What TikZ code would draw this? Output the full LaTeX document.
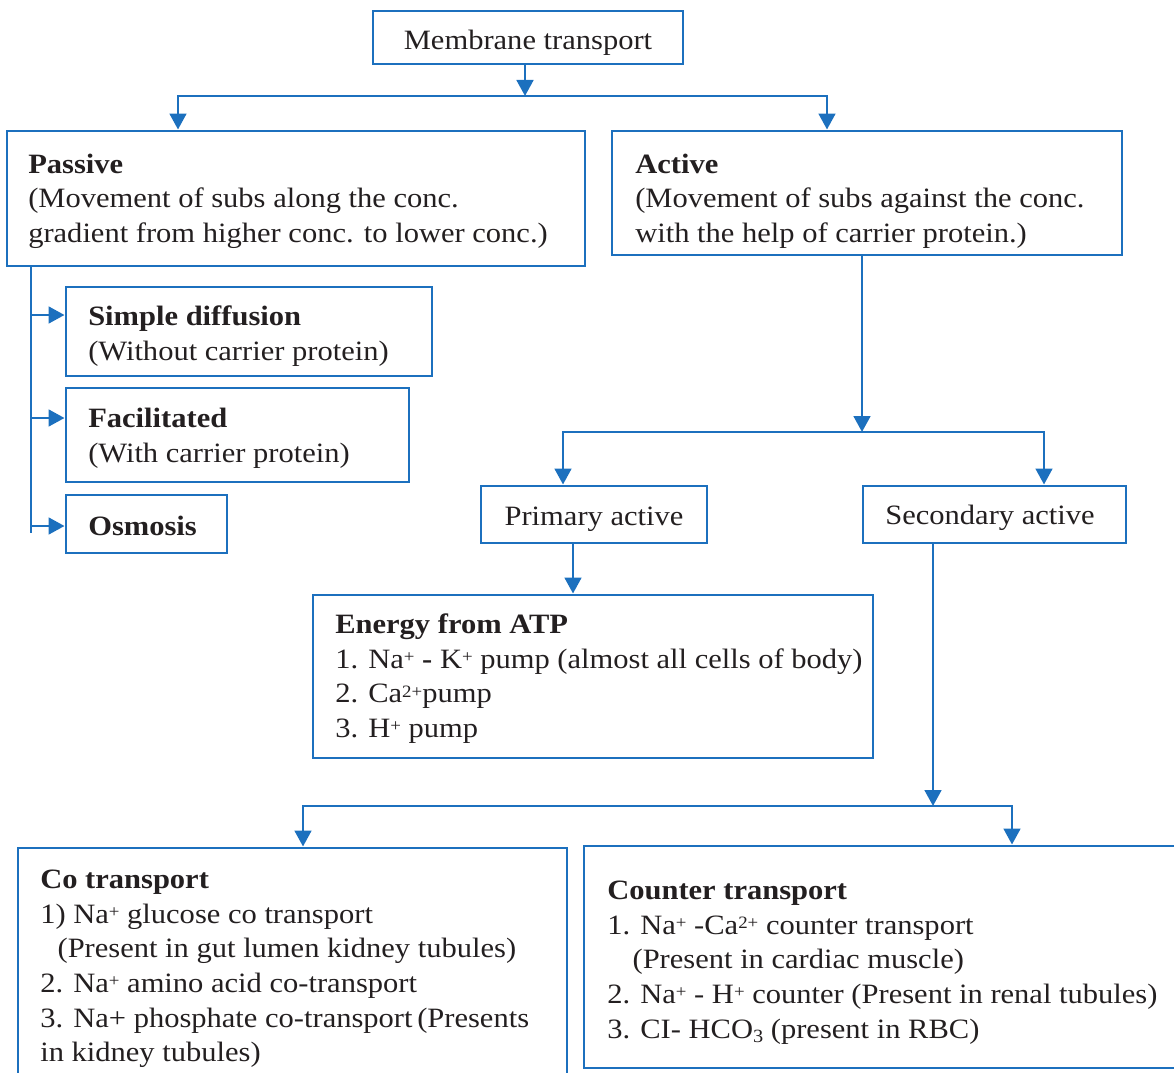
\documentclass[tikz,border=0pt]{standalone}
\usepackage{fontspec}
\setmainfont[FakeStretch=1.09]{Liberation Serif}
\usetikzlibrary{arrows.meta,fit}
\definecolor{lb}{RGB}{28,112,190}
\definecolor{tc}{RGB}{35,31,32}
\newcommand\sps[1]{\raisebox{0.45ex}{\fontsize{13}{13}\selectfont #1}}
\newcommand\sbs[1]{\raisebox{-0.3ex}{\fontsize{14}{14}\selectfont #1}}
\begin{document}
\begin{tikzpicture}[x=0.75pt,y=-0.75pt,
  box/.style={draw=lb, line width=2.2pt, inner sep=0pt},
  conn/.style={draw=lb, line width=2.1pt},
  arr/.style={conn, -{Triangle[width=12.5pt,length=12pt]}},
  txt/.style={anchor=north west, align=left, inner sep=0pt, text=tc, font=\fontsize{21}{26}\selectfont},
  ctxt/.style={anchor=base, inner sep=0pt, text=tc, font=\fontsize{21}{26}\selectfont}]
\useasboundingbox (0,0) rectangle (1174,1073);
\clip (0,0) rectangle (1174,1073);

% boxes
\node[box, fit={(373,11) (683,64)}] (mt) {};
\node[box, fit={(7,131) (585,266)}] (passive) {};
\node[box, fit={(612,131) (1122,255)}] (active) {};
\node[box, fit={(66,287) (432,376)}] (sd) {};
\node[box, fit={(66,388) (409,482)}] (fac) {};
\node[box, fit={(66,495) (227,553)}] (osm) {};
\node[box, fit={(481,486) (707,543)}] (prim) {};
\node[box, fit={(863,486) (1126,543)}] (sec) {};
\node[box, fit={(313,595) (873,758)}] (atp) {};
\node[box, fit={(18,848) (567,1090)}] (co) {};
\node[box, fit={(584,846) (1190,1068)}] (ctr) {};

% texts
\node[ctxt] (mtt) at (528,50) {Membrane transport};
\node[txt] (passivet) at (28,148.7) {\strut\textbf{Passive}\\(Movement of subs along the conc.\\gradient from higher conc. to lower conc.)};
\node[txt] (activet) at (635,148.7) {\strut\textbf{Active}\\(Movement of subs against the conc.\\with the help of carrier protein.)};
\node[txt] (sdt) at (88,301) {\strut\textbf{Simple diffusion}\\(Without carrier protein)};
\node[txt] (fact) at (88,403) {\strut\textbf{Facilitated}\\(With carrier protein)};
\node[txt] (osmt) at (88,511) {\strut\textbf{Osmosis}};
\node[ctxt] (primt) at (594,525) {Primary active};
\node[ctxt] (sect) at (990,524) {Secondary active};
\node[txt] (atpt) at (335,609) {\strut\textbf{Energy from ATP}\\
1. Na\sps{+} \textbf{-} K\sps{+} pump (almost all cells of body)\\
2. Ca\sps{2+}pump\\
3. H\sps{+} pump};
\node[txt] (cot) at (40,864) {\strut\textbf{Co transport}\\
1) Na\sps{+} glucose co transport\\
\hspace*{13pt}(Present in gut lumen kidney tubules)\\
2. Na\sps{+} amino acid co-transport\\
3. Na+ phosphate co-transport\,(Presents\\
in kidney tubules)};
\node[txt] (ctrt) at (607,875) {\strut\textbf{Counter transport}\\
1. Na\sps{+} -Ca\sps{2+} counter transport\\
\hspace*{19pt}(Present in cardiac muscle)\\
2. Na\sps{+} - H\sps{+} counter (Present in renal tubules)\\
3. CI- HCO\sbs{3} (present in RBC)};

% junction coordinates
\coordinate (j1) at (525,96);
\coordinate (xP) at (178,0);
\coordinate (xA) at (827,0);
\coordinate (pv) at (31,533);
\coordinate (a1) at (31,315);
\coordinate (a2) at (31,418);
\coordinate (a3) at (31,526);
\coordinate (j2) at (862,432);
\coordinate (xPr) at (563,0);
\coordinate (xSe) at (1044,0);
\coordinate (xAtp) at (573,0);
\coordinate (j3) at (933,806);
\coordinate (xCo) at (303,0);
\coordinate (xCt) at (1012,0);

% connectors
\draw[arr] (mt.south -| j1) -- (j1);
\draw[arr] (j1) -| (passive.north -| xP);
\draw[arr] (j1) -| (active.north -| xA);
\draw[conn] (passive.south -| pv) -- (pv);
\draw[arr] (a1) -- (a1 -| sd.west);
\draw[arr] (a2) -- (a2 -| fac.west);
\draw[arr] (a3) -- (a3 -| osm.west);
\draw[arr] (active.south -| j2) -- (j2);
\draw[arr] (j2) -| (prim.north -| xPr);
\draw[arr] (j2) -| (sec.north -| xSe);
\draw[arr] (prim.south -| xAtp) -- (atp.north -| xAtp);
\draw[arr] (sec.south -| j3) -- (j3);
\draw[arr] (j3) -| (co.north -| xCo);
\draw[arr] (j3) -| (ctr.north -| xCt);
\end{tikzpicture}
\end{document}
